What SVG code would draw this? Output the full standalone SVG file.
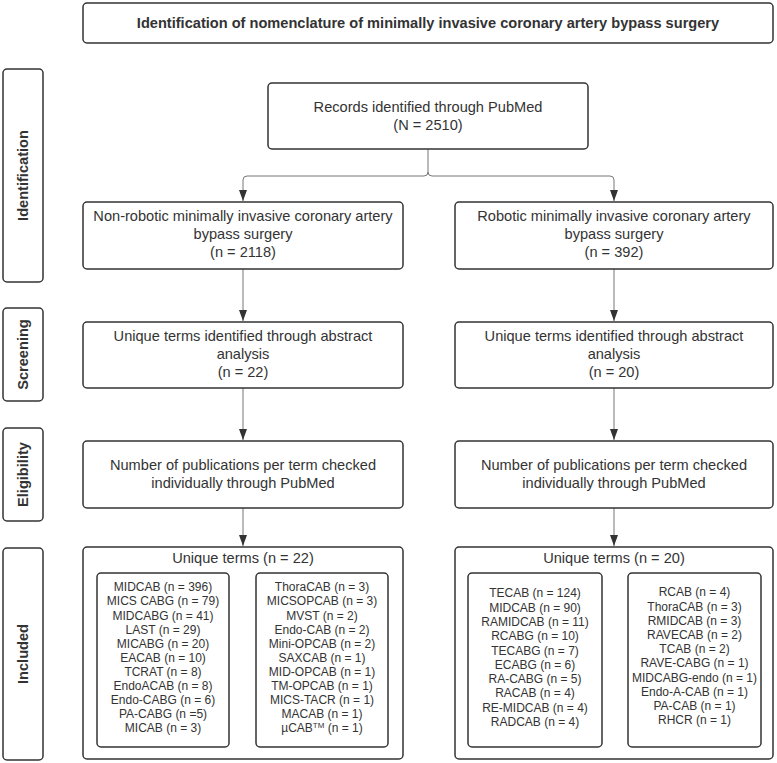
<svg xmlns="http://www.w3.org/2000/svg" width="777" height="763" viewBox="0 0 777 763">
<defs>
<style>
.box{fill:#fff;stroke:#333;stroke-width:1.5}
.t{font-family:"Liberation Sans",Arial,sans-serif;font-size:14.6px;fill:#333;text-anchor:middle}
.b{font-family:"Liberation Sans",Arial,sans-serif;font-size:14.6px;font-weight:bold;fill:#333;text-anchor:middle}
.s{font-family:"Liberation Sans",Arial,sans-serif;font-size:12px;fill:#333;text-anchor:middle}
.c{fill:none;stroke:#777;stroke-width:1}
</style>
<marker id="ah" markerUnits="userSpaceOnUse" markerWidth="12" markerHeight="10" refX="11" refY="5" orient="auto" viewBox="0 0 12 10">
<path d="M0,1 L11,5 L0,9 Z" fill="#333"/>
</marker>
</defs>
<rect width="777" height="763" fill="#fff"/>

<g id="title">
<rect class="box" x="83" y="3" width="690" height="40" rx="4"/>
<text class="b" x="428" y="28">Identification of nomenclature of minimally invasive coronary artery bypass surgery</text>
</g>

<g id="lane-identification">
<rect class="box" x="3" y="69" width="40" height="213" rx="4"/>
<text class="b" transform="translate(28,175.5) rotate(-90)">Identification</text>
</g>
<g id="lane-screening">
<rect class="box" x="3" y="308" width="40" height="93" rx="4"/>
<text class="b" transform="translate(28,354.5) rotate(-90)">Screening</text>
</g>
<g id="lane-eligibility">
<rect class="box" x="3" y="428" width="40" height="93" rx="4"/>
<text class="b" transform="translate(28,474.5) rotate(-90)">Eligibility</text>
</g>
<g id="lane-included">
<rect class="box" x="3" y="548" width="40" height="212" rx="4"/>
<text class="b" transform="translate(28,654) rotate(-90)">Included</text>
</g>

<g id="connectors">
<path class="c" d="M428,149 V172 Q428,176 424,176 H247 Q243,176 243,180 V201" marker-end="url(#ah)"/>
<path class="c" d="M428,172 Q428,176 432,176 H610 Q614,176 614,180 V201" marker-end="url(#ah)"/>
<path class="c" d="M243,269 V321" marker-end="url(#ah)"/>
<path class="c" d="M614,269 V321" marker-end="url(#ah)"/>
<path class="c" d="M243,388 V440" marker-end="url(#ah)"/>
<path class="c" d="M614,388 V440" marker-end="url(#ah)"/>
<path class="c" d="M243,508 V546" marker-end="url(#ah)"/>
<path class="c" d="M614,508 V546" marker-end="url(#ah)"/>
</g>

<g id="records">
<rect class="box" x="268" y="83" width="320" height="66" rx="4"/>
<text class="t" x="428" y="112">Records identified through PubMed</text>
<text class="t" x="428" y="130">(N = 2510)</text>
</g>

<g id="nonrobotic">
<rect class="box" x="83" y="202" width="320" height="67" rx="4"/>
<text class="t" x="243" y="221">Non-robotic minimally invasive coronary artery</text>
<text class="t" x="243" y="239">bypass surgery</text>
<text class="t" x="243" y="257">(n = 2118)</text>
</g>
<g id="robotic">
<rect class="box" x="455" y="202" width="318" height="67" rx="4"/>
<text class="t" x="614" y="221">Robotic minimally invasive coronary artery</text>
<text class="t" x="614" y="239">bypass surgery</text>
<text class="t" x="614" y="257">(n = 392)</text>
</g>

<g id="screen-left">
<rect class="box" x="83" y="322" width="320" height="66" rx="4"/>
<text class="t" x="243" y="341">Unique terms identified through abstract</text>
<text class="t" x="243" y="359">analysis</text>
<text class="t" x="243" y="377">(n = 22)</text>
</g>
<g id="screen-right">
<rect class="box" x="455" y="322" width="318" height="66" rx="4"/>
<text class="t" x="614" y="341">Unique terms identified through abstract</text>
<text class="t" x="614" y="359">analysis</text>
<text class="t" x="614" y="377">(n = 20)</text>
</g>

<g id="elig-left">
<rect class="box" x="83" y="441" width="320" height="67" rx="4"/>
<text class="t" x="243" y="470">Number of publications per term checked</text>
<text class="t" x="243" y="488">individually through PubMed</text>
</g>
<g id="elig-right">
<rect class="box" x="455" y="441" width="318" height="67" rx="4"/>
<text class="t" x="614" y="470">Number of publications per term checked</text>
<text class="t" x="614" y="488">individually through PubMed</text>
</g>

<g id="included-left">
<rect class="box" x="83" y="547" width="320" height="212" rx="4"/>
<text class="t" x="243" y="563">Unique terms (n = 22)</text>
<rect class="box" x="97" y="573" width="132" height="174" rx="4"/>
<text class="s" x="163" y="591.3">MIDCAB (n = 396)</text>
<text class="s" x="163" y="605.4">MICS CABG (n = 79)</text>
<text class="s" x="163" y="619.5">MIDCABG (n = 41)</text>
<text class="s" x="163" y="633.6">LAST (n = 29)</text>
<text class="s" x="163" y="647.7">MICABG (n = 20)</text>
<text class="s" x="163" y="661.8">EACAB (n = 10)</text>
<text class="s" x="163" y="675.9">TCRAT (n = 8)</text>
<text class="s" x="163" y="690">EndoACAB (n = 8)</text>
<text class="s" x="163" y="704.1">Endo-CABG (n = 6)</text>
<text class="s" x="163" y="718.2">PA-CABG (n =5)</text>
<text class="s" x="163" y="732.3">MICAB (n = 3)</text>
<rect class="box" x="256" y="573" width="132" height="174" rx="4"/>
<text class="s" x="322" y="591.3">ThoraCAB (n = 3)</text>
<text class="s" x="322" y="605.4">MICSOPCAB (n = 3)</text>
<text class="s" x="322" y="619.5">MVST (n = 2)</text>
<text class="s" x="322" y="633.6">Endo-CAB (n = 2)</text>
<text class="s" x="322" y="647.7">Mini-OPCAB (n = 2)</text>
<text class="s" x="322" y="661.8">SAXCAB (n = 1)</text>
<text class="s" x="322" y="675.9">MID-OPCAB (n = 1)</text>
<text class="s" x="322" y="690">TM-OPCAB (n = 1)</text>
<text class="s" x="322" y="704.1">MICS-TACR (n = 1)</text>
<text class="s" x="322" y="718.2">MACAB (n = 1)</text>
<text class="s" x="322" y="732.3">µCAB<tspan dy="-4" font-size="8">TM</tspan><tspan dy="4"> (n = 1)</tspan></text>
</g>

<g id="included-right">
<rect class="box" x="455" y="547" width="318" height="212" rx="4"/>
<text class="t" x="614" y="563">Unique terms (n = 20)</text>
<rect class="box" x="468" y="573" width="134" height="174" rx="4"/>
<text class="s" x="535" y="597.3">TECAB (n = 124)</text>
<text class="s" x="535" y="611.6">MIDCAB (n = 90)</text>
<text class="s" x="535" y="625.9">RAMIDCAB (n = 11)</text>
<text class="s" x="535" y="640.2">RCABG (n = 10)</text>
<text class="s" x="535" y="654.5">TECABG (n = 7)</text>
<text class="s" x="535" y="668.8">ECABG (n = 6)</text>
<text class="s" x="535" y="683.1">RA-CABG (n = 5)</text>
<text class="s" x="535" y="697.4">RACAB (n = 4)</text>
<text class="s" x="535" y="711.7">RE-MIDCAB (n = 4)</text>
<text class="s" x="535" y="726">RADCAB (n = 4)</text>
<rect class="box" x="628" y="573" width="133" height="174" rx="4"/>
<text class="s" x="694.5" y="596.3">RCAB (n = 4)</text>
<text class="s" x="694.5" y="610.5">ThoraCAB (n = 3)</text>
<text class="s" x="694.5" y="624.7">RMIDCAB (n = 3)</text>
<text class="s" x="694.5" y="638.9">RAVECAB (n = 2)</text>
<text class="s" x="694.5" y="653.1">TCAB (n = 2)</text>
<text class="s" x="694.5" y="667.3">RAVE-CABG (n = 1)</text>
<text class="s" x="694.5" y="681.5">MIDCABG-endo (n = 1)</text>
<text class="s" x="694.5" y="695.7">Endo-A-CAB (n = 1)</text>
<text class="s" x="694.5" y="709.9">PA-CAB (n = 1)</text>
<text class="s" x="694.5" y="724.1">RHCR (n = 1)</text>
</g>
</svg>
